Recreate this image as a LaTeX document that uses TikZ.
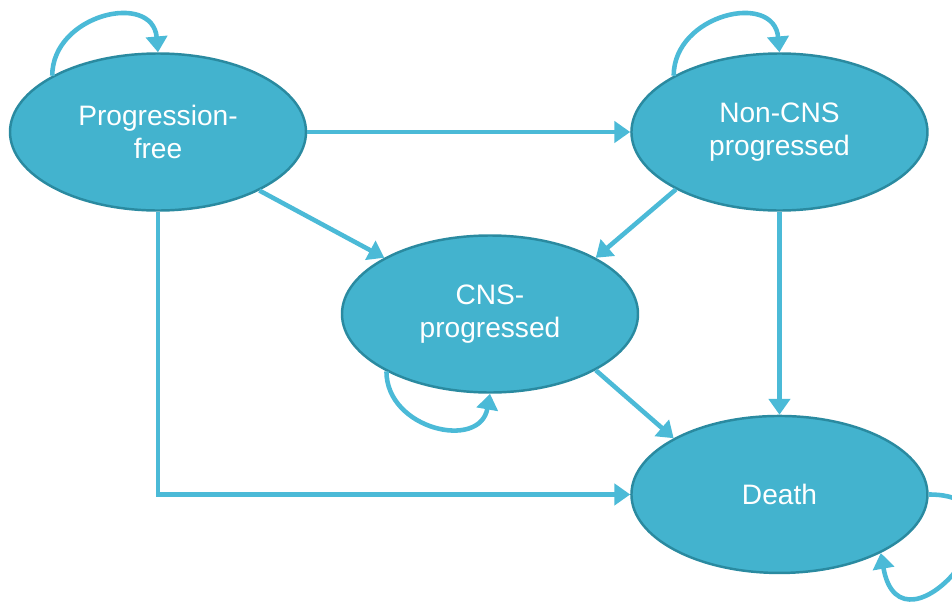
\documentclass[tikz,border=0pt]{standalone}
\usepackage{fontspec}
\setmainfont{Liberation Sans}
\usetikzlibrary{shapes,arrows.meta,positioning}
\definecolor{stateFill}{HTML}{43B3CE}
\definecolor{stateLine}{HTML}{2A8AA0}
\definecolor{arrowCol}{HTML}{4BBAD7}

\begin{document}
\begin{tikzpicture}[
  state/.style={ellipse,draw=stateLine,fill=stateFill,line width=1.4pt,
    minimum width=5.92cm,minimum height=3.14cm,inner sep=0pt,align=center,
    text=white,font=\fontsize{16}{18.5}\selectfont},
  trans/.style={draw=arrowCol,line width=2.6pt,-{Triangle[width=12pt,length=9pt]}}
]
  \useasboundingbox (0,0) rectangle (19.04,-12.18);

  \node[state] (pf) at (3.16,-2.64) {Progression-\\free};
  \node[state, right = 6.46cm of pf] (ncns) {Non-CNS\\progressed};
  \node[state] (cns) at (9.8,-6.28) {CNS-\\progressed};
  \node[state, below = 4.06cm of ncns] (death) {Death};

  \draw[trans] (pf) -- (ncns);
  \draw[trans] (pf.-30) -- (cns.152);
  \draw[trans] (ncns.209) -- (cns.28);
  \draw[trans] (ncns.south) -- (death.north);
  \draw[trans] (cns.-28) -- (death.152);
  \draw[trans] (pf.south) |- (death.west);

  \draw[trans] (pf.152) to[out=90,in=95,looseness=1.45] (pf.north);
  \draw[trans] (ncns.152) to[out=90,in=95,looseness=1.45] (ncns.north);
  \draw[trans] (cns.209) to[out=-90,in=-100,looseness=1.4] (cns.south);
  \draw[trans] (death.east) to[out=0,in=-80,looseness=4] (death.-30);

\end{tikzpicture}
\end{document}
